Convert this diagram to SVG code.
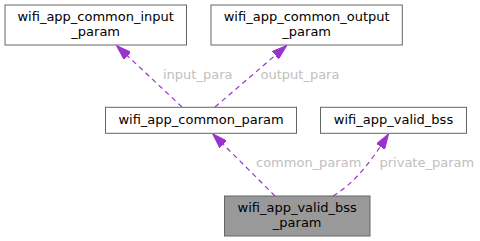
<svg xmlns="http://www.w3.org/2000/svg" width="480" height="241" viewBox="0 0 480 241">
<style>
.box{fill:#ffffff;stroke:#666666;stroke-width:1}
.hl{fill:#999999;stroke:#666666;stroke-width:1}
.t{font-family:"DejaVu Sans",sans-serif;font-size:13px;fill:#000000;text-anchor:middle}
.e{fill:none;stroke:#9a32cd;stroke-width:1.2;stroke-dasharray:5,4}
.l{font-family:"DejaVu Sans",sans-serif;font-size:13px;fill:#c0c0c0}
</style>
<defs>
<marker id="ah" markerUnits="userSpaceOnUse" viewBox="0 0 15 10" refX="15" refY="5" markerWidth="15" markerHeight="10" orient="auto">
<path d="M0,0 L15,5 L0,10 z" fill="#9a32cd" stroke="#9a32cd" stroke-width="1"/>
</marker>
</defs>
<g id="connectors">
<path class="e" d="M182,107 L116.5,45.5" marker-end="url(#ah)"/>
<path class="e" d="M215,107 L286.7,45.5" marker-end="url(#ah)"/>
<path class="e" d="M275,196 L212.7,133.8" marker-end="url(#ah)"/>
<path class="e" d="M333,196 C356,182 372,160 388.5,134" marker-end="url(#ah)"/>
<text class="l" x="163" y="79">input_para</text>
<text class="l" x="260.5" y="79">output_para</text>
<text class="l" x="256" y="167">common_param</text>
<text class="l" x="379.5" y="167">private_param</text>
</g>
<g id="node_input">
<rect class="box" x="5" y="5" width="181.5" height="40"/>
<text class="t" x="95.7" y="20.7">wifi_app_common_input</text>
<text class="t" x="95.7" y="36">_param</text>
</g>
<g id="node_output">
<rect class="box" x="211" y="5" width="191.3" height="40"/>
<text class="t" x="306.7" y="20.7">wifi_app_common_output</text>
<text class="t" x="306.7" y="36">_param</text>
</g>
<g id="node_common">
<rect class="box" x="105.5" y="107.3" width="191" height="26"/>
<text class="t" x="201" y="124">wifi_app_common_param</text>
</g>
<g id="node_validbss">
<rect class="box" x="320.5" y="107.3" width="146" height="26"/>
<text class="t" x="393.5" y="124">wifi_app_valid_bss</text>
</g>
<g id="node_validbssparam">
<rect class="hl" x="224.5" y="196" width="145.5" height="40"/>
<text class="t" x="297.2" y="211.7">wifi_app_valid_bss</text>
<text class="t" x="297.2" y="227">_param</text>
</g>
</svg>
